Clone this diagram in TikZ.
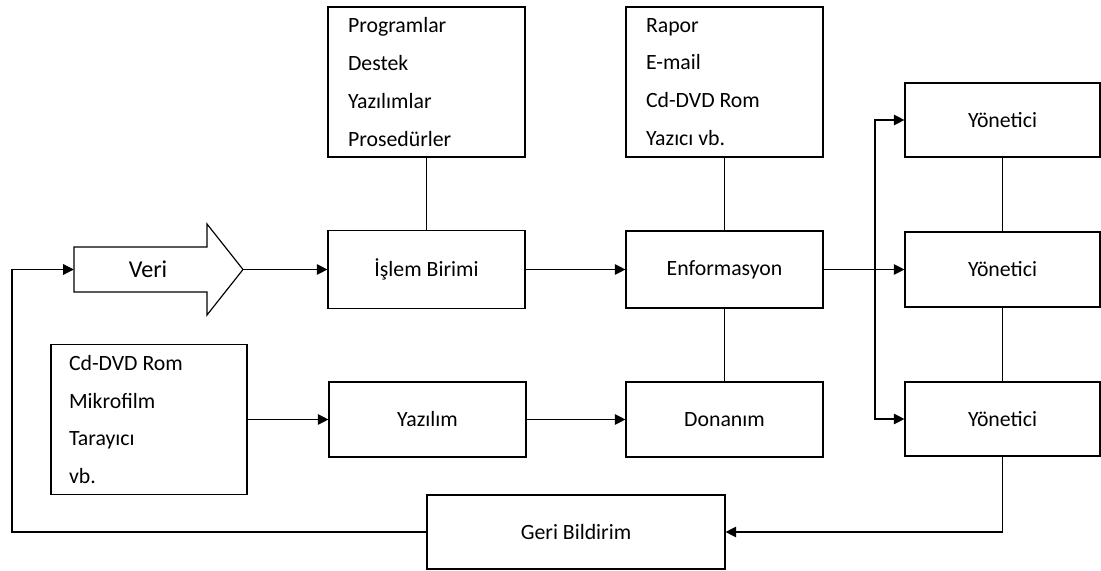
\documentclass[tikz,border=0pt]{standalone}
\usepackage{fontspec}
\setmainfont{Carlito}
\usetikzlibrary{arrows.meta,calc}
\newlength\pxu
\setlength\pxu{0.03cm}
\begin{document}
\begin{tikzpicture}[x=0.03cm,y=-0.03cm,
  every node/.style={font=\fontsize{18.6}{32.3}\selectfont, text=black},
  box/.style={draw, line width=1pt, minimum height=75\pxu, inner sep=0pt},
  listbox/.style={draw, line width=1pt, align=flush left, minimum height=150\pxu, inner ysep=0pt},
  link/.style={line width=1pt},
  arr/.style={line width=1pt, -{Triangle[length=9pt,width=9pt]}}]
\useasboundingbox (0,0) rectangle (1101,571);

% upper lists
\node[listbox, text width=157\pxu, inner xsep=20\pxu] (prog) at (426.5,82)
  {Programlar\\Destek\\Yazılımlar\\Prosedürler};
\node[listbox, text width=157\pxu, inner xsep=20\pxu] (rapor) at (724.5,82)
  {Rapor\\E-mail\\Cd-DVD Rom\\Yazıcı vb.};

% main row
\node[draw=none, minimum width=169\pxu, minimum height=45\pxu, inner sep=0pt] (veri) at (158.5,269.5) {};
\draw[line width=1pt, line join=miter] (74,247) -- (207,247) -- (207,224) -- (243,269.5)
  -- (207,315) -- (207,292) -- (74,292) -- cycle;
\node[font=\fontsize{20.6}{24}\selectfont] (veritxt) at (148,269.5) {Veri};
\node[box, minimum width=197\pxu, minimum height=78\pxu] (isl) at (426.5,269.5) {İşlem Birimi};
\node[box, minimum width=197\pxu, minimum height=77\pxu] (enf) at (724.5,269.5) {Enformasyon};

% managers
\node[box, minimum width=195\pxu, minimum height=74\pxu] (yon1) at (1002.5,120) {Yönetici};
\node[box, minimum width=195\pxu] (yon2) at (1002.5,269.5) {Yönetici};
\node[box, minimum width=195\pxu, minimum height=74\pxu] (yon3) at (1002.5,419) {Yönetici};

% lower row
\node[listbox, text width=160\pxu, inner xsep=18\pxu] (cd) at (149,419.5)
  {Cd-DVD Rom\\Mikrofilm\\Tarayıcı\\vb.};
\node[box, minimum width=197\pxu] (yaz) at (427.5,419.5) {Yazılım};
\node[box, minimum width=197\pxu] (don) at (724.5,419.5) {Donanım};
\node[box, minimum width=298\pxu, minimum height=74\pxu] (geri) at (576,532) {Geri Bildirim};

% connectors
\coordinate (fb) at (12,269.5);
\coordinate (br) at (875,269.5);
\draw[link] (prog.south) -- (isl.north);
\draw[link] (rapor.south) -- (enf.north);
\draw[link] (enf.south) -- (don.north);
\draw[link] (yon1.south) -- (yon2.north);
\draw[link] (yon2.south) -- (yon3.north);
\draw[arr] (geri.west) -| (fb) -- (veri.west);
\draw[arr] (veri.east) -- (isl.west);
\draw[arr] (isl.east) -- (enf.west);
\draw[arr] (enf.east) -- (yon2.west);
\draw[arr] (br) |- (yon1.west);
\draw[arr] (br) |- (yon3.west);
\draw[arr] (cd.east) -- (yaz.west);
\draw[arr] (yaz.east) -- (don.west);
\draw[arr] (yon3.south) |- (geri.east);
\end{tikzpicture}
\end{document}
